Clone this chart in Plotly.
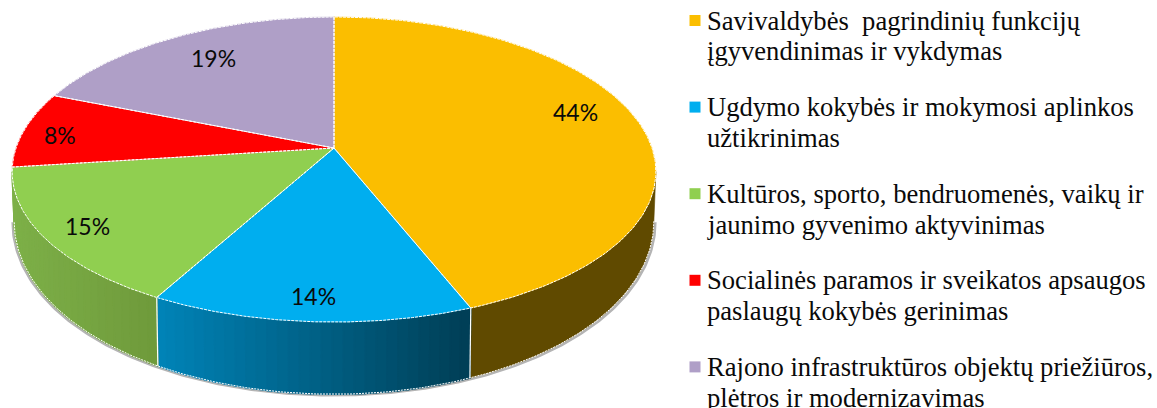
import numpy as np
import plotly.graph_objects as go

# Data
categories = [
    ["Savivaldybės\u00a0 pagrindinių funkcijų", "įgyvendinimas ir vykdymas"],
    ["Ugdymo kokybės ir mokymosi aplinkos", "užtikrinimas"],
    ["Kultūros, sporto, bendruomenės, vaikų ir", "jaunimo gyvenimo aktyvinimas"],
    ["Socialinės paramos ir sveikatos apsaugos", "paslaugų kokybės gerinimas"],
    ["Rajono infrastruktūros objektų priežiūros,", "plėtros ir modernizavimas"],
]
values = [44, 14, 15, 8, 19]

# Styles
top_colors = ["#FBBE00", "#00AEEF", "#90CF50", "#FF0000", "#AF9FC7"]
wall_left = ["#604A00", "#0084B8", "#7DB048", "#990000", "#6A5F78"]
wall_right = ["#604A00", "#003E55", "#6F9A3B", "#990000", "#6A5F78"]
label_xy = [(575, 112), (313, 296), (87, 226), (60, 135), (213, 58)]

# Projection of the tilted disc onto the page (axes run in page pixels)
W, H = 1157, 408
CX, CY = 334, 148
PERSP_X, PERSP_Y = 0.155, 0.141
TOP_RX, TOP_RY = 318, 149.5
WALL_RX, WALL_CY, WALL_RY = 316, 194, 172


def project(theta, rx=TOP_RX, cy=CY, ry=TOP_RY):
    u, v = np.sin(theta), np.cos(theta)
    return CX + rx * u / (1 + PERSP_X * v), cy - ry * v / (1 + PERSP_Y * v)


def wall(theta):
    return project(theta, rx=WALL_RX, cy=WALL_CY, ry=WALL_RY)


def mix(a, b, t):
    ca = [int(a[i:i + 2], 16) for i in (1, 3, 5)]
    cb = [int(b[i:i + 2], 16) for i in (1, 3, 5)]
    return "rgb(%d,%d,%d)" % tuple(round(x + (y - x) * t) for x, y in zip(ca, cb))


fig = go.Figure()


def poly(x, y, color, lw=0.6):
    fig.add_trace(go.Scatter(x=x, y=y, mode="lines", fill="toself", fillcolor=color,
                             line=dict(color=color, width=lw), hoverinfo="skip"))


def stroke(x, y, color="#FFFFFF", width=1, dash="2px,1px"):
    fig.add_trace(go.Scatter(x=x, y=y, mode="lines", hoverinfo="skip",
                             line=dict(color=color, width=width, dash=dash)))


fractions = np.cumsum([0] + values) / sum(values)
angles = fractions * 2 * np.pi
vis_from = np.arccos(-PERSP_X)
vis_to = 2 * np.pi - vis_from

# Soft shadow under the outer wall edge
sh = np.linspace(vis_from, vis_to, 240)
sx, sy = wall(sh)
stroke(sx + np.where(sx > CX, 1.5, -1.5), sy + 1, "#B4B4B4", 2.5, "solid")

# Side walls, drawn as bands so the shade can change along them
for i in range(len(values)):
    a0, a1 = max(angles[i], vis_from), min(angles[i + 1], vis_to)
    if a1 <= a0:
        continue
    if wall_left[i] == wall_right[i]:
        t = np.linspace(a0, a1, 120)
        xt, yt = project(t)
        xb, yb = wall(t)
        poly(np.r_[xt, xb[::-1], xt[0]], np.r_[yt, yb[::-1], yt[0]], wall_left[i])
        continue
    steps = 30
    edges = np.linspace(a0, a1, steps + 1)
    x_lo, x_hi = sorted((project(a0)[0], project(a1)[0]))
    for j in range(steps - 1, -1, -1):
        t = np.linspace(edges[j], edges[j + 1], 5)
        xt, yt = project(t)
        xb, yb = wall(t)
        f = (np.mean(xt) - x_lo) / max(x_hi - x_lo, 1)
        poly(np.r_[xt, xb[::-1], xt[0]], np.r_[yt, yb[::-1], yt[0]],
             mix(wall_left[i], wall_right[i], f), lw=1.5)

# Outer wall edge and wall seams
stroke(*wall(sh))
for a in angles[1:4]:
    if vis_from < a < vis_to:
        xt, yt = project(a)
        xb, yb = wall(a)
        stroke([xt, xb], [yt, yb], dash="solid", width=1.2)

# Top face
for i in range(len(values)):
    t = np.linspace(angles[i], angles[i + 1], 160)
    x, y = project(t)
    poly(np.r_[CX, x, CX], np.r_[CY, y, CY], top_colors[i])
for i in range(len(values)):
    t = np.linspace(angles[i], angles[i + 1], 160)
    x, y = project(t)
    stroke(np.r_[CX, x, CX], np.r_[CY, y, CY], dash="3px,1px")

# Legend keys
LEG_X, LEG_Y0, LEG_STEP, LINE = 695, 20.5, 86.6, 30.8
fig.add_trace(go.Scatter(
    x=[LEG_X] * len(categories),
    y=[LEG_Y0 + LEG_STEP * i for i in range(len(categories))],
    mode="markers", hoverinfo="skip",
    marker=dict(symbol="square", size=11, color=top_colors, line=dict(width=0))))

annotations = []
for i, lines in enumerate(categories):
    for k, txt in enumerate(lines):
        annotations.append(dict(
            x=705, y=LEG_Y0 + LEG_STEP * i + LINE * k, text=txt, xref="x", yref="y",
            xanchor="left", yanchor="middle", showarrow=False,
            font=dict(family="Liberation Serif", size=26.6, color="#0A0A0A")))
for v, (lx, ly) in zip(values, label_xy):
    annotations.append(dict(
        x=lx, y=ly, text=f"{v}%", xref="x", yref="y", xanchor="center", yanchor="middle",
        showarrow=False, font=dict(family="Lato", size=23, color="#0A0A0A")))

fig.update_layout(
    width=W, height=H, margin=dict(l=0, r=0, t=0, b=0),
    paper_bgcolor="white", plot_bgcolor="white", showlegend=False,
    xaxis=dict(range=[0, W], visible=False, fixedrange=True),
    yaxis=dict(range=[H, 0], visible=False, fixedrange=True),
    annotations=annotations,
)
fig.write_html("out.html", post_script="document.body.style.margin='0';document.body.style.overflow='hidden';",
               config={"displayModeBar": False})
